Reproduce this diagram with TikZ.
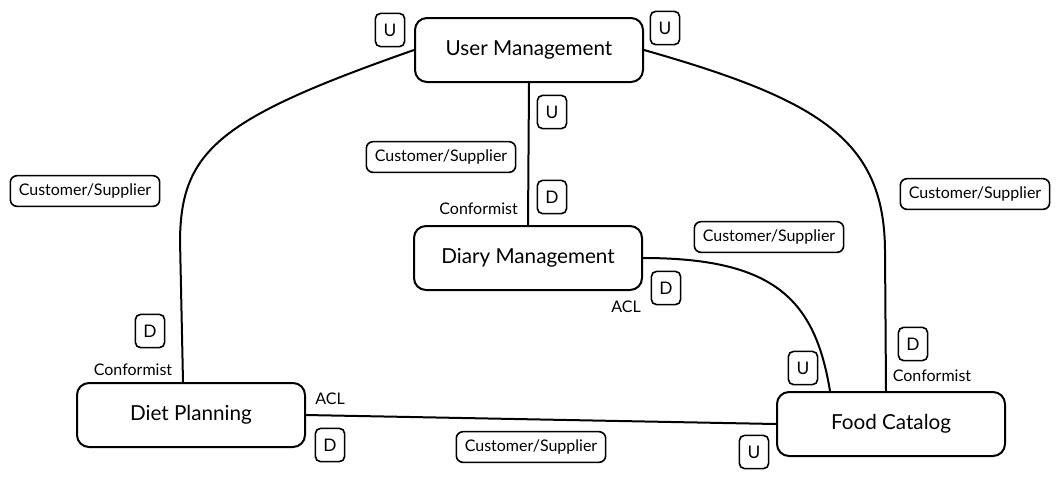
\documentclass[tikz,border=0pt]{standalone}
\usepackage{fontspec}
\setmainfont{Lato}
\usetikzlibrary{calc}
\newcommand{\lw}{1.5pt}

\begin{document}
\begin{tikzpicture}[x=0.75pt,y=-0.75pt,
  ctx/.style={draw,rounded corners=9pt,line width=\lw,minimum width=171pt,minimum height=48pt,font=\fontsize{15.5}{18}\selectfont},
  ud/.style={draw,rounded corners=4pt,line width=1.2pt,minimum width=22pt,minimum height=25pt,inner sep=0pt,font=\fontsize{13}{15}\selectfont},
  rel/.style={draw,rounded corners=5pt,line width=1.2pt,minimum width=112pt,minimum height=23pt,inner sep=2pt,font=\fontsize{12}{14}\selectfont},
  note/.style={font=\fontsize{12}{14}\selectfont,inner sep=0pt}]
\useasboundingbox (0,0) rectangle (1060,480);

% contexts
\node[ctx] (um) at (529,50) {User Management};
\node[ctx] (dm) at (528,258) {Diary Management};
\node[ctx] (dp) at (191,415) {Diet Planning};
\node[ctx] (fc) at (891,424) {Food Catalog};

% relations
\draw[line width=\lw] (um.west) .. controls (220,118) and (181,150) .. (180,240) -- ($(dp.north)+(-8,0)$);
\draw[line width=\lw] (um.south) -- (dm.north);
\draw[line width=\lw] (um.east) .. controls (820,100) and (884,140) .. (885,250) -- ($(fc.north)+(-5,0)$);
\draw[line width=\lw] (dm.east) .. controls (775,258) and (815,300) .. ($(fc.north)+(-61,0)$);
\draw[line width=\lw] (dp.east) -- (fc.west);

% upstream / downstream marks
\foreach \n/\t/\p in {u1/U/{(390,30)},u2/U/{(665,28)},u3/U/{(552,112)},d1/D/{(552,197)},
                      d2/D/{(666,288)},d3/D/{(150,331)},d4/D/{(330,445)},u4/U/{(803,368)},
                      d5/D/{(913,344)},u5/U/{(754,452)}}{
\node[ud] (\n) at \p {\t};
}

% labels
\node[rel] (cs1) at (85,191) {Customer/Supplier};
\node[rel] (cs2) at (441,157) {Customer/Supplier};
\node[rel] (cs3) at (975,194) {Customer/Supplier};
\node[rel] (cs4) at (769,237) {Customer/Supplier};
\node[rel] (cs5) at (531,447) {Customer/Supplier};

\node[note,anchor=east] (cf1) at (518,209) {Conformist};
\node[note] (acl1) at (626,307) {ACL};
\node[note] (cf2) at (133,370) {Conformist};
\node[note] (acl2) at (330,399) {ACL};
\node[note] (cf3) at (932,376) {Conformist};
\end{tikzpicture}
\end{document}
